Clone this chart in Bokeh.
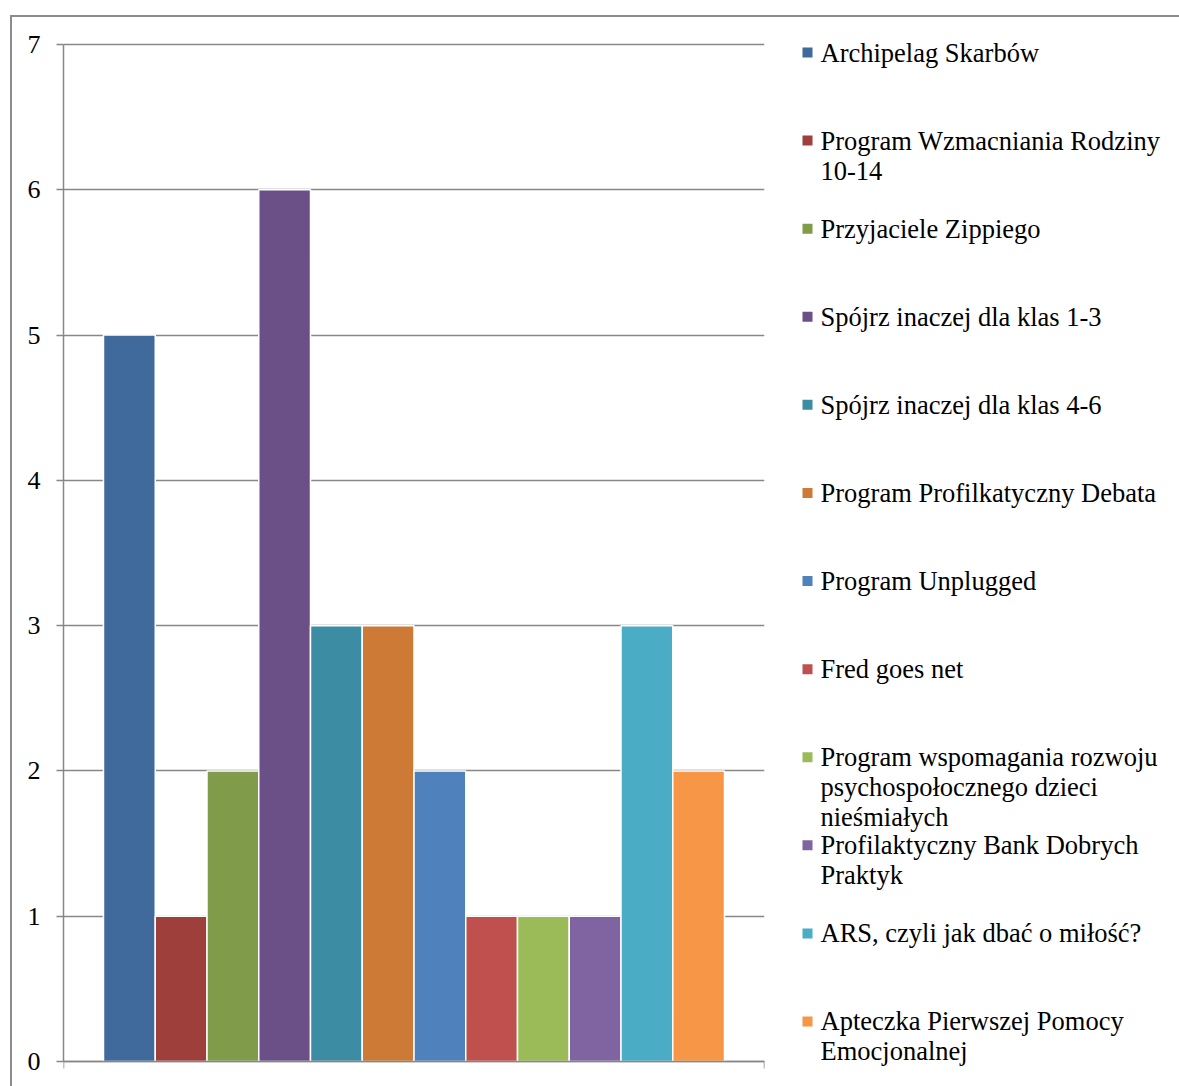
from bokeh.plotting import figure
from bokeh.models import Range1d, FixedTicker, ColumnDataSource, Div
from bokeh.layouts import row, column
from bokeh.core.properties import value
from bokeh.embed import file_html
from bokeh.resources import INLINE

# ---- data ----
programs = [
    "Archipelag Skarbów",
    "Program Wzmacniania Rodziny\n10-14",
    "Przyjaciele Zippiego",
    "Spójrz inaczej dla klas 1-3",
    "Spójrz inaczej dla klas 4-6",
    "Program Profilkatyczny Debata",
    "Program Unplugged",
    "Fred goes net",
    "Program wspomagania rozwoju\npsychospołocznego dzieci\nnieśmiałych",
    "Profilaktyczny Bank Dobrych\nPraktyk",
    "ARS, czyli jak  dbać o miłość?",
    "Apteczka Pierwszej Pomocy\nEmocjonalnej",
]
counts = [5, 1, 2, 6, 3, 3, 2, 1, 1, 1, 3, 2]
colors = ["#3F6A9B", "#9E3F3C", "#809B49", "#6A5087", "#3C8CA4", "#CD7A36",
          "#4F81BD", "#C0504D", "#9BBB59", "#8064A2", "#4BACC6", "#F79646"]
y_ticks = [0, 1, 2, 3, 4, 5, 6, 7]

GRAY = "#878787"
BORDER = "#8C8C8C"
FONT = "Liberation Serif"

# ---- geometry (image pixels) ----
TOP0 = 17                 # y where the figures start
LEFT0 = 12                # x where the chart figure starts
PLOT_L, PLOT_R = 63, 764  # value axis / end of category axis
Y7, Y0 = 44, 1061         # pixel rows of value 7 and value 0
FR_T, FR_B = 24, 1072     # frame extent (a little beyond the plot area)
TOTAL_H = 1086
ppu = (Y0 - Y7) / 7.0

# ---- chart figure ----
FRAME_W = float(PLOT_R - PLOT_L)
side_gap = 40.0 / FRAME_W
n = len(counts)
bar_w = (1.0 - 2 * side_gap) / n
xs = [side_gap + (i + 0.5) * bar_w for i in range(n)]
src = ColumnDataSource(dict(x=xs, top=counts, color=colors))

CH_W = 780
CH_H = TOTAL_H - TOP0
p = figure(width=CH_W, height=CH_H,
           x_range=Range1d(0, 1),
           y_range=Range1d(-(FR_B - Y0) / ppu, 7 + (Y7 - FR_T) / ppu),
           output_backend="svg", toolbar_location=None,
           min_border_left=PLOT_L - LEFT0, min_border_right=LEFT0 + CH_W - PLOT_R,
           min_border_top=FR_T - TOP0, min_border_bottom=TOTAL_H - FR_B,
           outline_line_color=None, background_fill_color="white", margin=0)

p.vbar(x="x", top="top", bottom=0, width=bar_w, source=src,
       fill_color="color", line_color="white", line_width=1.5)

ya = p.yaxis[0]
ya.ticker = FixedTicker(ticks=y_ticks)
ya.bounds = (0, 7)
ya.axis_line_color = GRAY
ya.axis_line_width = 1.5
ya.major_tick_line_color = GRAY
ya.major_tick_line_width = 1.5
ya.major_tick_out = 7
ya.major_tick_in = 0
ya.minor_tick_line_color = None
ya.major_label_standoff = 16
ya.major_label_text_font = FONT
ya.major_label_text_font_size = "26px"
ya.major_label_text_color = "black"

xa = p.xaxis[0]
xa.ticker = FixedTicker(ticks=[0, 1])
xa.fixed_location = 0
xa.axis_line_color = GRAY
xa.axis_line_width = 1.5
xa.major_tick_line_color = GRAY
xa.major_tick_line_width = 1.5
xa.major_tick_out = 7
xa.major_tick_in = 0
xa.minor_tick_line_color = None
xa.major_label_overrides = {0: "", 1: ""}
xa.major_label_text_font_size = "2px"
xa.major_label_standoff = 0

p.xgrid.grid_line_color = None
p.ygrid.ticker = FixedTicker(ticks=y_ticks)
p.ygrid.grid_line_color = GRAY
p.ygrid.grid_line_width = 1.5

# ---- legend figure (image pixel coordinates, y downward) ----
LG_X0 = LEFT0 + CH_W
LG_W = 1179 - LG_X0
q = figure(width=LG_W, height=CH_H,
           x_range=Range1d(LG_X0, LG_X0 + LG_W), y_range=Range1d(FR_B, FR_T),
           output_backend="svg", toolbar_location=None,
           min_border_left=0, min_border_right=0,
           min_border_top=FR_T - TOP0, min_border_bottom=TOTAL_H - FR_B,
           outline_line_color=None, margin=0)
q.axis.visible = False
q.grid.grid_line_color = None

step = 88.09
first_y = 52.0
line_h = 30.0
sq_x, sq_y, tx, ty, tt = [], [], [], [], []
for i, name in enumerate(programs):
    cy = first_y + i * step
    sq_x.append(807.0)
    sq_y.append(cy)
    for k, line in enumerate(name.split("\n")):
        tx.append(820.0)
        ty.append(cy + k * line_h)
        tt.append(line)

q.rect(x=sq_x, y=sq_y, width=10, height=10, fill_color=colors, line_color=None)
q.text(x=tx, y=ty, text=tt, text_font=value(FONT), text_font_size=value("26.5px"),
       text_color="black", text_baseline="middle", text_align="left")

# ---- outer chart-area border (left & top) ----
def bar_div(w, h, color=None):
    st = {"background-color": color} if color else {}
    return Div(text="", width=w, height=h, margin=0, styles=st)

layout = row(
    bar_div(10, TOTAL_H),
    column(
        bar_div(1179 - 10, 15),
        bar_div(1179 - 10, 2, BORDER),
        row(bar_div(2, CH_H, BORDER), p, q, spacing=0, margin=0),
        spacing=0, margin=0,
    ),
    spacing=0, margin=0,
)

open("out.html", "w").write(file_html(layout, INLINE))
